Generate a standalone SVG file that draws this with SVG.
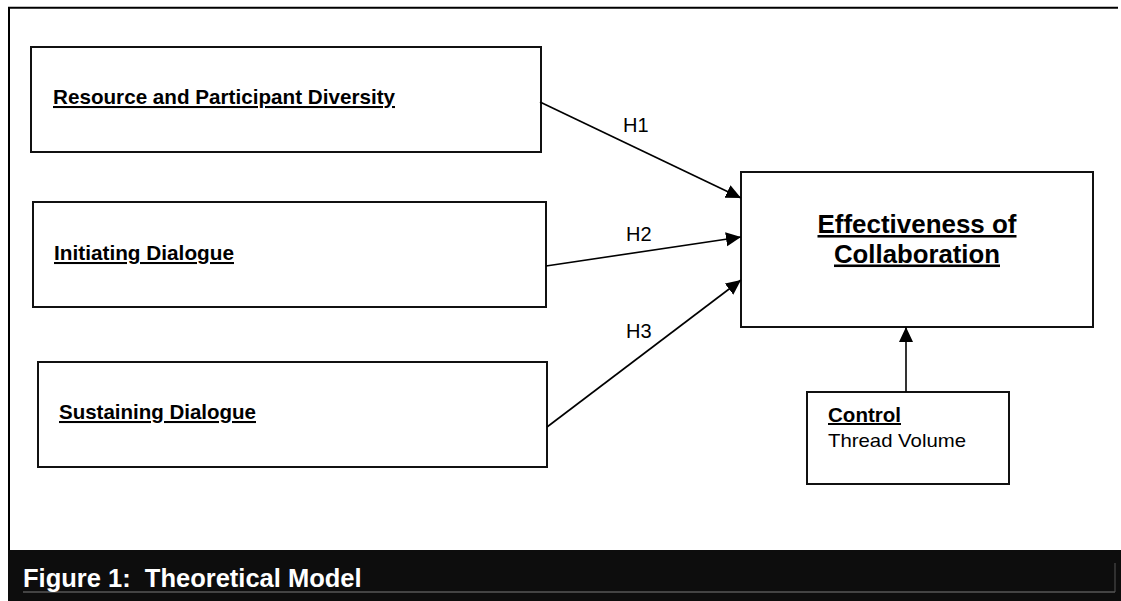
<svg xmlns="http://www.w3.org/2000/svg" width="1121" height="601" viewBox="0 0 1121 601">
<style>
.box{fill:#fff;stroke:#111;stroke-width:2}
.lbl{font-family:"Liberation Sans",Arial,sans-serif;font-weight:bold;text-decoration:underline;fill:#000}
.reg{font-family:"Liberation Sans",Arial,sans-serif;fill:#000}
.conn{stroke:#000;stroke-width:1.6;fill:none}
</style>
<defs>
<marker id="ah" markerUnits="userSpaceOnUse" markerWidth="16" markerHeight="15" refX="15" refY="7" orient="auto">
<path d="M0,0 L15,7 L0,14 Z" fill="#000"/>
</marker>
</defs>
<rect x="0" y="0" width="1121" height="601" fill="#fff"/>
<g id="frame">
<line x1="8" y1="7.8" x2="1118" y2="7.8" stroke="#000" stroke-width="2"/>
<line x1="9" y1="7" x2="9" y2="551" stroke="#000" stroke-width="2"/>
</g>
<g id="n1">
<rect class="box" x="31" y="47" width="510" height="105"/>
<text class="lbl" x="53" y="104" font-size="20.5" textLength="342" lengthAdjust="spacingAndGlyphs">Resource and Participant Diversity</text>
</g>
<g id="n2">
<rect class="box" x="33" y="202" width="513" height="105"/>
<text class="lbl" x="54" y="260" font-size="20.5" textLength="180" lengthAdjust="spacingAndGlyphs">Initiating Dialogue</text>
</g>
<g id="n3">
<rect class="box" x="38" y="362" width="509" height="105"/>
<text class="lbl" x="59" y="419" font-size="20.5" textLength="197" lengthAdjust="spacingAndGlyphs">Sustaining Dialogue</text>
</g>
<g id="n4">
<rect class="box" x="741" y="172" width="352" height="155"/>
<text class="lbl" x="917" y="233" font-size="25.5" text-anchor="middle" textLength="199" lengthAdjust="spacingAndGlyphs">Effectiveness of</text>
<text class="lbl" x="917" y="262.5" font-size="25.5" text-anchor="middle" textLength="166" lengthAdjust="spacingAndGlyphs">Collaboration</text>
</g>
<g id="n5">
<rect class="box" x="807" y="392" width="202" height="92"/>
<text class="lbl" x="828" y="422" font-size="20" textLength="73" lengthAdjust="spacingAndGlyphs">Control</text>
<text class="reg" x="828" y="447" font-size="19" textLength="138" lengthAdjust="spacingAndGlyphs">Thread Volume</text>
</g>
<g id="connectors">
<line class="conn" x1="540" y1="102" x2="741" y2="198" marker-end="url(#ah)"/>
<line class="conn" x1="546" y1="266" x2="741" y2="237" marker-end="url(#ah)"/>
<line class="conn" x1="547" y1="427" x2="741" y2="280" marker-end="url(#ah)"/>
<line class="conn" x1="906" y1="392" x2="906" y2="327" marker-end="url(#ah)"/>
<text class="reg" x="623" y="132" font-size="20">H1</text>
<text class="reg" x="626" y="241" font-size="20">H2</text>
<text class="reg" x="626" y="338" font-size="20">H3</text>
</g>
<g id="caption">
<rect x="8" y="550" width="1113" height="51" fill="#0d0d0d"/>
<line x1="23" y1="592" x2="1115" y2="592" stroke="#7a7a7a" stroke-width="1"/>
<line x1="1115" y1="563" x2="1115" y2="592" stroke="#555" stroke-width="1"/>
<text x="23" y="587" font-family="Liberation Sans,Arial,sans-serif" font-weight="bold" font-size="25.5" fill="#fff" style="white-space:pre">Figure 1:  Theoretical Model</text>
</g>
</svg>
